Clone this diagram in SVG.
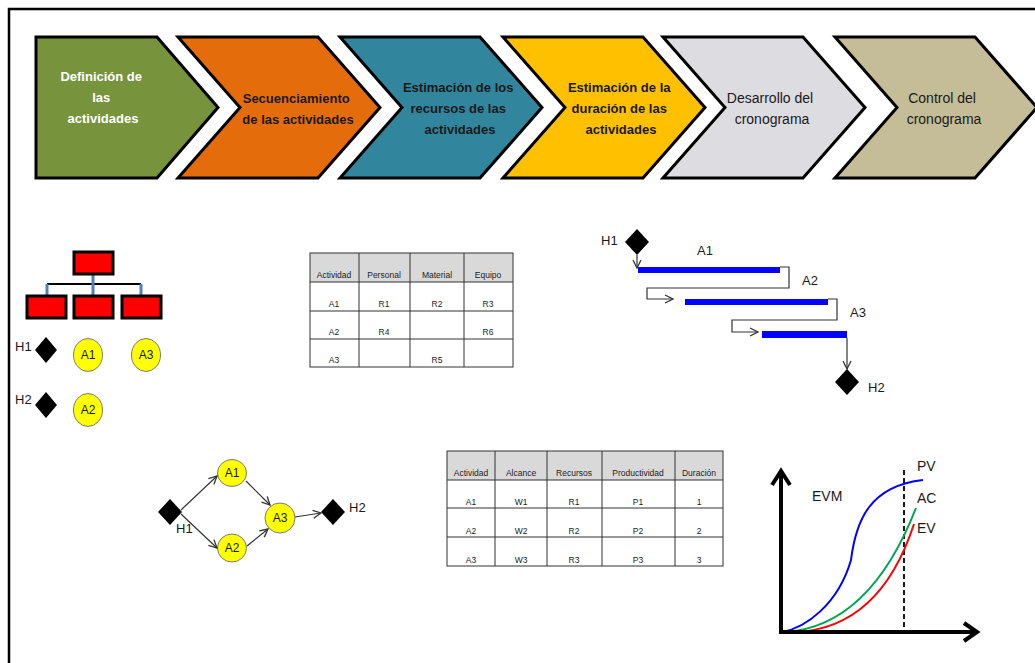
<svg xmlns="http://www.w3.org/2000/svg" width="1035" height="663" viewBox="0 0 1035 663">
  <defs>
    <style>
      .chev { stroke: #000; stroke-width: 3; stroke-linejoin: miter; }
      .ct { font-family: "Liberation Sans", Arial, sans-serif; font-size: 13px; font-weight: bold; text-anchor: middle; fill: #1a1a1a; }
      .ctn { font-family: "Liberation Sans", Arial, sans-serif; font-size: 14px; text-anchor: middle; fill: #1a1a1a; }
      .lbl { font-family: "Liberation Sans", Arial, sans-serif; font-size: 13px; fill: #1a1a1a; }
      .clbl { font-family: "Liberation Sans", Arial, sans-serif; font-size: 12px; text-anchor: middle; fill: #1a1a1a; }
      .tt { font-family: "Liberation Sans", Arial, sans-serif; font-size: 8.5px; text-anchor: middle; fill: #222; }
      .grid { stroke: #333; stroke-width: 1; fill: none; }
      .hdr { fill: #d9d9d9; }
      .dia { fill: #000; }
      .act { fill: #ffff00; stroke: #7a7a7a; stroke-width: 1; }
      .org { fill: #ff0000; stroke: #000; stroke-width: 3; }
      .link { stroke: #333; stroke-width: 1.2; fill: none; }
      .bar { fill: #0000ff; }
    </style>
    <marker id="open" viewBox="0 0 10 10" refX="9" refY="5" markerWidth="10" markerHeight="10" markerUnits="userSpaceOnUse" orient="auto">
      <path d="M1,1 L9,5 L1,9" fill="none" stroke="#333" stroke-width="1.3"/>
    </marker>
  </defs>

  <rect width="1035" height="663" fill="#fff"/>
  <!-- frame -->
  <path d="M9,663 L9,9 L1035,9" fill="none" stroke="#000" stroke-width="2.5"/>

  <!-- process chevrons -->
  <g id="step-definicion">
    <path class="chev" fill="#77933c" d="M36,37 L157,37 L218,107.5 L157,178 L36,178 Z"/>
    <text class="ct" style="fill:#fff">
      <tspan x="103" y="81">Definición de</tspan>
      <tspan x="103" y="102">las</tspan>
      <tspan x="103" y="123">actividades</tspan>
    </text>
  </g>
  <g id="step-secuenciamiento">
    <path class="chev" fill="#e46c0a" d="M178,37 L318,37 L380,107.5 L318,178 L178,178 L240,107.5 Z"/>
    <text class="ct">
      <tspan x="298" y="103">Secuenciamiento</tspan>
      <tspan x="298" y="124">de las actividades</tspan>
    </text>
  </g>
  <g id="step-recursos">
    <path class="chev" fill="#31859c" d="M340,37 L480,37 L542,107.5 L480,178 L340,178 L402,107.5 Z"/>
    <text class="ct">
      <tspan x="460" y="92">Estimación de los</tspan>
      <tspan x="460" y="113">recursos de las</tspan>
      <tspan x="460" y="134">actividades</tspan>
    </text>
  </g>
  <g id="step-duracion">
    <path class="chev" fill="#ffc000" d="M503,37 L643,37 L705,107.5 L643,178 L503,178 L565,107.5 Z"/>
    <text class="ct">
      <tspan x="621" y="92">Estimación de la</tspan>
      <tspan x="621" y="113">duración de las</tspan>
      <tspan x="621" y="134">actividades</tspan>
    </text>
  </g>
  <g id="step-desarrollo">
    <path class="chev" fill="#dddce1" d="M663,37 L803,37 L865,107.5 L803,178 L663,178 L725,107.5 Z"/>
    <text class="ctn">
      <tspan x="772" y="103">Desarrollo del</tspan>
      <tspan x="772" y="124">cronograma</tspan>
    </text>
  </g>
  <g id="step-control">
    <path class="chev" fill="#c4bd97" d="M835,37 L975,37 L1037,107.5 L975,178 L835,178 L897,107.5 Z"/>
    <text class="ctn">
      <tspan x="944" y="103">Control del</tspan>
      <tspan x="944" y="124">cronograma</tspan>
    </text>
  </g>

  <!-- breakdown structure -->
  <g id="wbs">
    <line x1="47" y1="284" x2="141" y2="284" stroke="#000" stroke-width="2"/>
    <path d="M93,274 L93,296 M47,284 L47,296 M141,284 L141,296" stroke="#4f81bd" stroke-width="3" fill="none"/>
    <rect class="org" x="74" y="252" width="39" height="22"/>
    <rect class="org" x="27" y="296" width="39" height="22"/>
    <rect class="org" x="74" y="296" width="39" height="22"/>
    <rect class="org" x="122" y="296" width="39" height="22"/>
  </g>
  <g id="list-hitos">
    <text class="lbl" x="15" y="351">H1</text>
    <path class="dia" d="M46,337 L57,350 L46,363 L35,350 Z"/>
    <text class="lbl" x="15" y="404">H2</text>
    <path class="dia" d="M46,392 L57,405 L46,418 L35,405 Z"/>
    <ellipse class="act" cx="88" cy="355" rx="14.5" ry="16.5"/>
    <text class="clbl" x="88" y="359">A1</text>
    <ellipse class="act" cx="146" cy="355" rx="14.5" ry="16.5"/>
    <text class="clbl" x="146" y="359">A3</text>
    <ellipse class="act" cx="88" cy="410" rx="14.5" ry="16.5"/>
    <text class="clbl" x="88" y="414">A2</text>
  </g>

  <!-- resources table -->
  <g id="tabla-recursos">
    <rect class="hdr" x="310" y="253" width="203" height="29"/>
    <rect class="grid" x="310" y="253" width="203" height="114"/>
    <path class="grid" d="M310,282 H513 M310,311 H513 M310,339 H513 M359,253 V367 M410,253 V367 M464,253 V367"/>
    <text class="tt" x="334" y="278">Actividad</text>
    <text class="tt" x="384" y="278">Personal</text>
    <text class="tt" x="437" y="278">Material</text>
    <text class="tt" x="488" y="278">Equipo</text>
    <text class="tt" x="334" y="307">A1</text>
    <text class="tt" x="384" y="307">R1</text>
    <text class="tt" x="437" y="307">R2</text>
    <text class="tt" x="488" y="307">R3</text>
    <text class="tt" x="334" y="335">A2</text>
    <text class="tt" x="384" y="335">R4</text>
    <text class="tt" x="488" y="335">R6</text>
    <text class="tt" x="334" y="363">A3</text>
    <text class="tt" x="437" y="363">R5</text>
  </g>

  <!-- gantt -->
  <g id="gantt">
    <text class="lbl" x="601" y="245">H1</text>
    <path class="dia" d="M637,229 L649,242 L637,255 L625,242 Z"/>
    <text class="lbl" x="697" y="255">A1</text>
    <rect class="bar" x="638" y="267" width="142" height="6"/>
    <text class="lbl" x="802" y="285">A2</text>
    <rect class="bar" x="685" y="299" width="143" height="6"/>
    <text class="lbl" x="850" y="317">A3</text>
    <rect class="bar" x="762" y="331" width="85" height="7"/>
    <path class="dia" d="M847,369 L859,382 L847,395 L835,382 Z"/>
    <text class="lbl" x="868" y="392">H2</text>
  </g>
  <g id="gantt-links">
    <path class="link" d="M637,255 L637,268" marker-end="url(#open)"/>
    <path class="link" d="M780,267 L789,267 L789,288 L647,288 L647,299 L673,299" marker-end="url(#open)"/>
    <path class="link" d="M828,299 L837,299 L837,320 L732,320 L732,332 L758,332" marker-end="url(#open)"/>
    <path class="link" d="M847,338 L847,369" marker-end="url(#open)"/>
  </g>

  <!-- network -->
  <g id="red-h1">
    <path class="dia" d="M170,499 L182,512 L170,525 L158,512 Z"/>
    <text class="lbl" x="176" y="533">H1</text>
  </g>
  <g id="red-a1">
    <ellipse class="act" cx="232" cy="473" rx="14.5" ry="13.5"/>
    <text class="clbl" x="232" y="477">A1</text>
  </g>
  <g id="red-a2">
    <ellipse class="act" cx="232" cy="548" rx="14.5" ry="14"/>
    <text class="clbl" x="232" y="552">A2</text>
  </g>
  <g id="red-a3">
    <ellipse class="act" cx="280" cy="518" rx="15" ry="15"/>
    <text class="clbl" x="280" y="522">A3</text>
  </g>
  <g id="red-h2">
    <path class="dia" d="M333,499 L345,512 L333,525 L321,512 Z"/>
    <text class="lbl" x="349" y="512">H2</text>
  </g>
  <g id="red-links">
    <path class="link" d="M181,510 L217,476" marker-end="url(#open)"/>
    <path class="link" d="M181,514 L217,548" marker-end="url(#open)"/>
    <path class="link" d="M246,481 L270,505" marker-end="url(#open)"/>
    <path class="link" d="M247,546 L268,529" marker-end="url(#open)"/>
    <path class="link" d="M295,517 L321,513" marker-end="url(#open)"/>
  </g>

  <!-- duration table -->
  <g id="tabla-duracion">
    <rect class="hdr" x="447" y="451" width="276" height="29"/>
    <rect class="grid" x="447" y="451" width="276" height="115"/>
    <path class="grid" d="M447,480 H723 M447,508 H723 M447,537 H723 M495,451 V566 M547,451 V566 M602,451 V566 M675,451 V566"/>
    <text class="tt" x="471" y="476">Actividad</text>
    <text class="tt" x="521" y="476">Alcance</text>
    <text class="tt" x="574" y="476">Recursos</text>
    <text class="tt" x="638" y="476">Productividad</text>
    <text class="tt" x="699" y="476">Duración</text>
    <text class="tt" x="471" y="505">A1</text>
    <text class="tt" x="521" y="505">W1</text>
    <text class="tt" x="574" y="505">R1</text>
    <text class="tt" x="638" y="505">P1</text>
    <text class="tt" x="699" y="505">1</text>
    <text class="tt" x="471" y="534">A2</text>
    <text class="tt" x="521" y="534">W2</text>
    <text class="tt" x="574" y="534">R2</text>
    <text class="tt" x="638" y="534">P2</text>
    <text class="tt" x="699" y="534">2</text>
    <text class="tt" x="471" y="563">A3</text>
    <text class="tt" x="521" y="563">W3</text>
    <text class="tt" x="574" y="563">R3</text>
    <text class="tt" x="638" y="563">P3</text>
    <text class="tt" x="699" y="563">3</text>
  </g>

  <!-- earned value chart -->
  <g id="evm">
    <line x1="904" y1="470" x2="904" y2="632" stroke="#000" stroke-width="1.8" stroke-dasharray="5 3"/>
    <path d="M782,632 C805,628 838,605 851,560 C856,520 870,486 923,480" fill="none" stroke="#0000ff" stroke-width="2"/>
    <path d="M786,632 Q870,626 916,508" fill="none" stroke="#00a550" stroke-width="2"/>
    <path d="M796,632 Q880,628 914,524" fill="none" stroke="#ff0000" stroke-width="2"/>
    <path d="M781,634 L781,471 M772,485 L781,471 L790,485" fill="none" stroke="#000" stroke-width="4" stroke-linejoin="miter"/>
    <path d="M779,632 L977,632 M964,623 L977,632 L964,641" fill="none" stroke="#000" stroke-width="4"/>
    <text class="lbl" style="font-size:14px" x="812" y="501">EVM</text>
    <text class="lbl" style="font-size:14px" x="917" y="471">PV</text>
    <text class="lbl" style="font-size:14px" x="917" y="503">AC</text>
    <text class="lbl" style="font-size:14px" x="917" y="533">EV</text>
  </g>
</svg>
